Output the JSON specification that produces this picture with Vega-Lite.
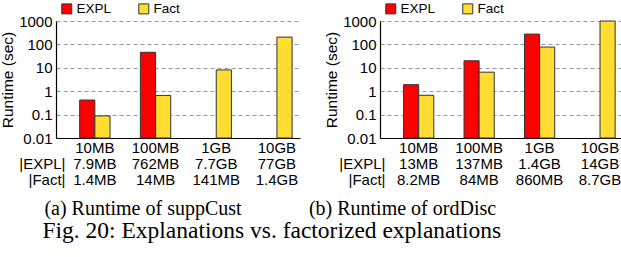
{
  "$schema": "https://vega.github.io/schema/vega-lite/v6.json",
  "padding": {"left": 0, "top": 2, "right": 0, "bottom": 0},
  "background": "white",
  "data": {"values": [
    {"panel": "a", "label": "10MB;7.9MB;1.4MB", "system": "EXPL", "runtime": 0.42},
    {"panel": "a", "label": "10MB;7.9MB;1.4MB", "system": "Fact", "runtime": 0.088},
    {"panel": "a", "label": "100MB;762MB;14MB", "system": "EXPL", "runtime": 46},
    {"panel": "a", "label": "100MB;762MB;14MB", "system": "Fact", "runtime": 0.66},
    {"panel": "a", "label": "1GB;7.7GB;141MB", "system": "Fact", "runtime": 8.1},
    {"panel": "a", "label": "10GB;77GB;1.4GB", "system": "Fact", "runtime": 205},
    {"panel": "b", "label": "10MB;13MB;8.2MB", "system": "EXPL", "runtime": 1.9},
    {"panel": "b", "label": "10MB;13MB;8.2MB", "system": "Fact", "runtime": 0.67},
    {"panel": "b", "label": "100MB;137MB;84MB", "system": "EXPL", "runtime": 20},
    {"panel": "b", "label": "100MB;137MB;84MB", "system": "Fact", "runtime": 6.5},
    {"panel": "b", "label": "1GB;1.4GB;860MB", "system": "EXPL", "runtime": 275},
    {"panel": "b", "label": "1GB;1.4GB;860MB", "system": "Fact", "runtime": 77},
    {"panel": "b", "label": "10GB;14GB;8.7GB", "system": "Fact", "runtime": 1000}
  ]},
  "title": {"text": "Fig. 20: Explanations vs. factorized explanations", "orient": "bottom", "anchor": "middle", "font": "Liberation Serif", "fontSize": 23.5, "fontWeight": "normal", "color": "black", "offset": 0, "dx": -40},
  "spacing": 8,
  "resolve": {"scale": {"x": "independent", "y": "independent", "xOffset": "independent"}, "legend": {"color": "independent"}},
  "hconcat": [
    {
      "width": 244, "height": 117,
      "title": {"text": "(a) Runtime of suppCust", "orient": "bottom", "anchor": "middle", "dx": -35, "offset": 12},
      "transform": [{"filter": "datum.panel == 'a'"}],
      "mark": {"type": "bar", "stroke": "#333", "strokeWidth": 1},
      "encoding": {
        "x": {"field": "label", "type": "nominal", "sort": null,
              "scale": {"paddingInner": 0.5, "paddingOuter": 0.26, "align": 0.75},
              "axis": {"labelExpr": "split(datum.label, ';')", "title": ["|EXPL|", "|Fact|"], "titleX": 9, "titleY": 18}},
        "xOffset": {"field": "system", "type": "nominal", "sort": ["EXPL", "Fact"]},
        "y": {"field": "runtime", "type": "quantitative", "scale": {"type": "log", "domain": [0.01, 1000]},
              "axis": {"values": [0.01, 0.1, 1, 10, 100, 1000], "format": "~g", "title": "Runtime (sec)"}},
        "y2": {"datum": 0.01},
        "color": {"field": "system", "type": "nominal",
                  "scale": {"domain": ["EXPL", "Fact"], "range": ["#ff0000", "#ffdd33"]},
                  "legend": {"orient": "none", "legendX": 4, "legendY": -19, "direction": "horizontal", "title": null}}
      }
    },
    {
      "width": 243, "height": 117,
      "title": {"text": "(b) Runtime of ordDisc", "orient": "bottom", "anchor": "middle", "dx": -99, "offset": 12},
      "transform": [{"filter": "datum.panel == 'b'"}],
      "mark": {"type": "bar", "stroke": "#333", "strokeWidth": 1},
      "encoding": {
        "x": {"field": "label", "type": "nominal", "sort": null,
              "scale": {"paddingInner": 0.5, "paddingOuter": 0.26, "align": 0.75},
              "axis": {"labelExpr": "split(datum.label, ';')", "title": ["|EXPL|", "|Fact|"], "titleX": 5, "titleY": 18}},
        "xOffset": {"field": "system", "type": "nominal", "sort": ["EXPL", "Fact"]},
        "y": {"field": "runtime", "type": "quantitative", "scale": {"type": "log", "domain": [0.01, 1000]},
              "axis": {"values": [0.01, 0.1, 1, 10, 100, 1000], "format": "~g", "title": "Runtime (sec)"}},
        "y2": {"datum": 0.01},
        "color": {"field": "system", "type": "nominal",
                  "scale": {"domain": ["EXPL", "Fact"], "range": ["#ff0000", "#ffdd33"]},
                  "legend": {"orient": "none", "legendX": 4, "legendY": -19, "direction": "horizontal", "title": null}}
      }
    }
  ],
  "config": {
    "view": {"stroke": null},
    "font": "Liberation Sans",
    "title": {"font": "Liberation Serif", "fontSize": 20, "fontWeight": "normal", "color": "black"},
    "axis": {"labelFont": "Liberation Sans", "titleFont": "Liberation Sans", "labelColor": "black", "titleColor": "black",
             "labelFontSize": 15, "titleFontSize": 15.5, "titleFontWeight": "normal", "domainColor": "black", "domainWidth": 1.2, "ticks": false},
    "axisX": {"labelAngle": 0, "grid": false, "labelPadding": 2, "labelBaseline": "top", "labelLineHeight": 16, "labelOverlap": false,
              "titleAlign": "right", "titleBaseline": "top", "titleLineHeight": 16, "titleAngle": 0, "titleFontSize": 15},
    "axisY": {"grid": true, "gridDash": [4, 3], "gridColor": "#999", "labelPadding": 4, "titlePadding": 3, "labelOverlap": false},
    "legend": {"symbolType": "square", "symbolSize": 100, "symbolStrokeColor": "#333", "symbolStrokeWidth": 1, "labelFontSize": 13.5, "labelColor": "black", "columnPadding": 24, "labelOffset": 3, "padding": 0}
  }
}
